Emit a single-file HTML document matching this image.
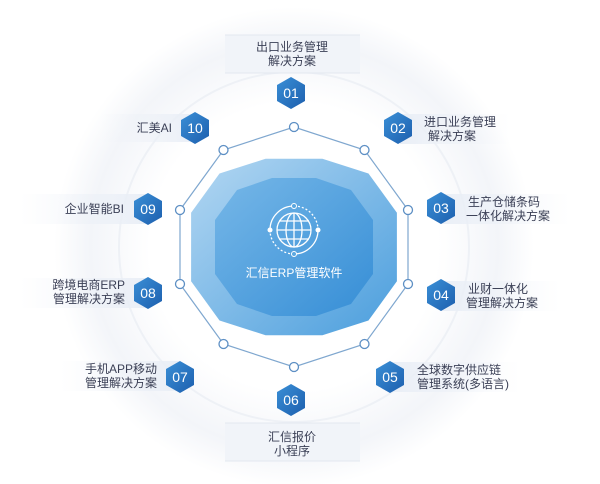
<!DOCTYPE html>
<html><head><meta charset="utf-8"><style>
html,body{margin:0;padding:0;background:#fff;}
svg{display:block;}
text{font-family:"Liberation Sans","Noto Sans CJK SC",sans-serif;}
.l{font-size:12px;fill:#3a3f55;}
.n{font-size:14px;fill:#fff;text-anchor:middle;}
</style></head><body>
<svg width="600" height="484" viewBox="0 0 600 484" xmlns="http://www.w3.org/2000/svg">
<defs>
<linearGradient id="hx" x1="0" y1="0" x2="1" y2="1"><stop offset="0" stop-color="#3a8fd6"/><stop offset="1" stop-color="#1d5fae"/></linearGradient>
<linearGradient id="od" x1="0" y1="0" x2="1" y2="1"><stop offset="0" stop-color="#b3d7f2"/><stop offset="1" stop-color="#4b9edd"/></linearGradient>
<linearGradient id="id" x1="0" y1="0" x2="1" y2="1"><stop offset="0" stop-color="#72b5e7"/><stop offset="1" stop-color="#338cd5"/></linearGradient>
<linearGradient id="bl" x1="0" y1="0" x2="1" y2="0"><stop offset="0" stop-color="#eef2f8" stop-opacity="0"/><stop offset="1" stop-color="#e9eef6"/></linearGradient>
<linearGradient id="br" x1="0" y1="0" x2="1" y2="0"><stop offset="0" stop-color="#e9eef6"/><stop offset="1" stop-color="#eef2f8" stop-opacity="0"/></linearGradient>
<radialGradient id="bg" cx="0.5" cy="0.5" r="0.5"><stop offset="0.6" stop-color="#fff"/><stop offset="0.85" stop-color="#f3f5f9"/><stop offset="1" stop-color="#fff"/></radialGradient>
</defs>
<rect width="600" height="484" fill="#fff"/>
<circle cx="294" cy="247" r="240" fill="url(#bg)"/>
<circle cx="294" cy="247" r="175" fill="none" stroke="#eef1f6" stroke-width="2"/>
<rect x="225" y="35" width="135" height="38" fill="#f1f4f9"/>
<line x1="225" y1="35" x2="360" y2="35" stroke="#e3e8f0"/><line x1="225" y1="73" x2="360" y2="73" stroke="#e3e8f0"/>
<rect x="225" y="423" width="135" height="38" fill="#f1f4f9"/>
<line x1="225" y1="423" x2="360" y2="423" stroke="#e3e8f0"/><line x1="225" y1="461" x2="360" y2="461" stroke="#e3e8f0"/>
<rect x="400" y="114" width="110" height="30" fill="url(#br)"/>
<rect x="440" y="194" width="130" height="30" fill="url(#br)"/>
<rect x="440" y="281" width="120" height="30" fill="url(#br)"/>
<rect x="390" y="362" width="130" height="30" fill="url(#br)"/>
<rect x="60" y="361" width="120" height="30" fill="url(#bl)"/>
<rect x="20" y="278" width="128" height="30" fill="url(#bl)"/>
<rect x="20" y="194" width="128" height="30" fill="url(#bl)"/>
<rect x="100" y="114" width="95" height="28" fill="url(#bl)"/>
<polygon points="294,127 364.5,150 408,210 408,284 364.5,344 294,367 223.5,344 180,284 180,210 223.5,150" fill="none" stroke="#7fa7cf" stroke-width="1.2"/>
<polygon points="265,157 323,157 370,172 399,212 399,282 370,322 323,337 265,337 218,322 189,282 189,212 218,172" fill="url(#od)" transform="translate(294 247) scale(0.98) translate(-294 -247)"/>
<polygon points="272,178 316,178 351,190 373,220 373,274 351,304 316,316 272,316 237,304 215,274 215,220 237,190" fill="url(#id)" opacity="0.92"/>
<g stroke="#fff" fill="none" stroke-width="1.3">
<circle cx="294" cy="230" r="17"/>
<ellipse cx="294" cy="230" rx="8" ry="17"/>
<line x1="294" y1="213" x2="294" y2="247"/>
<line x1="277" y1="230" x2="311" y2="230"/>
<line x1="279" y1="221" x2="309" y2="221"/><line x1="279" y1="239" x2="309" y2="239"/>
<path d="M270 230 A24 24 0 0 1 294 206"/>
<path d="M294 206 A24 24 0 0 1 318 230" stroke-dasharray="2 2"/>
<path d="M318 230 A24 24 0 0 1 294 254"/>
<path d="M294 254 A24 24 0 0 1 270 230" stroke-dasharray="2 2"/>
</g>
<circle cx="270" cy="230" r="2.5" fill="#fff"/><circle cx="318" cy="230" r="2.5" fill="#fff"/>
<circle cx="294" cy="206" r="2.5" fill="#5aa7e0" stroke="#fff"/><circle cx="294" cy="254" r="2.5" fill="#5aa7e0" stroke="#fff"/>
<text x="294" y="277" font-size="12" fill="#fff" text-anchor="middle">汇信ERP管理软件</text>
<g fill="#fff" stroke="#5d8fc4" stroke-width="1.3">
<circle cx="294" cy="127" r="4.5"/><circle cx="364.5" cy="150" r="4.5"/><circle cx="408" cy="210" r="4.5"/><circle cx="408" cy="284" r="4.5"/><circle cx="364.5" cy="344" r="4.5"/><circle cx="294" cy="367" r="4.5"/><circle cx="223.5" cy="344" r="4.5"/><circle cx="180" cy="284" r="4.5"/><circle cx="180" cy="210" r="4.5"/><circle cx="223.5" cy="150" r="4.5"/>
</g>
<polygon points="291,77 305,85 305,101 291,109 277,101 277,85" fill="url(#hx)"/><text class="n" x="291" y="98">01</text>
<polygon points="398,112 412,120 412,136 398,144 384,136 384,120" fill="url(#hx)"/><text class="n" x="398" y="133">02</text>
<polygon points="441,192 455,200 455,216 441,224 427,216 427,200" fill="url(#hx)"/><text class="n" x="441" y="213">03</text>
<polygon points="441,279 455,287 455,303 441,311 427,303 427,287" fill="url(#hx)"/><text class="n" x="441" y="300">04</text>
<polygon points="390,361 404,369 404,385 390,393 376,385 376,369" fill="url(#hx)"/><text class="n" x="390" y="382">05</text>
<polygon points="291,384 305,392 305,408 291,416 277,408 277,392" fill="url(#hx)"/><text class="n" x="291" y="405">06</text>
<polygon points="180,361 194,369 194,385 180,393 166,385 166,369" fill="url(#hx)"/><text class="n" x="180" y="382">07</text>
<polygon points="148,277 162,285 162,301 148,309 134,301 134,285" fill="url(#hx)"/><text class="n" x="148" y="298">08</text>
<polygon points="148,193 162,201 162,217 148,225 134,217 134,201" fill="url(#hx)"/><text class="n" x="148" y="214">09</text>
<polygon points="195,112 209,120 209,136 195,144 181,136 181,120" fill="url(#hx)"/><text class="n" x="195" y="133">10</text>
<text class="l" x="292" y="51" text-anchor="middle">出口业务管理</text>
<text class="l" x="292" y="65" text-anchor="middle">解决方案</text>
<text class="l" x="292" y="441" text-anchor="middle">汇信报价</text>
<text class="l" x="292" y="455" text-anchor="middle">小程序</text>
<text class="l" x="424" y="126">进口业务管理</text>
<text class="l" x="428" y="140">解决方案</text>
<text class="l" x="468" y="206">生产仓储条码</text>
<text class="l" x="466" y="220">一体化解决方案</text>
<text class="l" x="468" y="293">业财一体化</text>
<text class="l" x="466" y="307">管理解决方案</text>
<text class="l" x="417" y="374">全球数字供应链</text>
<text class="l" x="417" y="388">管理系统(多语言)</text>
<text class="l" x="157" y="373" text-anchor="end">手机APP移动</text>
<text class="l" x="157" y="387" text-anchor="end">管理解决方案</text>
<text class="l" x="125" y="289" text-anchor="end">跨境电商ERP</text>
<text class="l" x="125" y="303" text-anchor="end">管理解决方案</text>
<text class="l" x="124" y="213" text-anchor="end">企业智能BI</text>
<text class="l" x="172" y="132" text-anchor="end">汇美AI</text>
</svg>
</body></html>
